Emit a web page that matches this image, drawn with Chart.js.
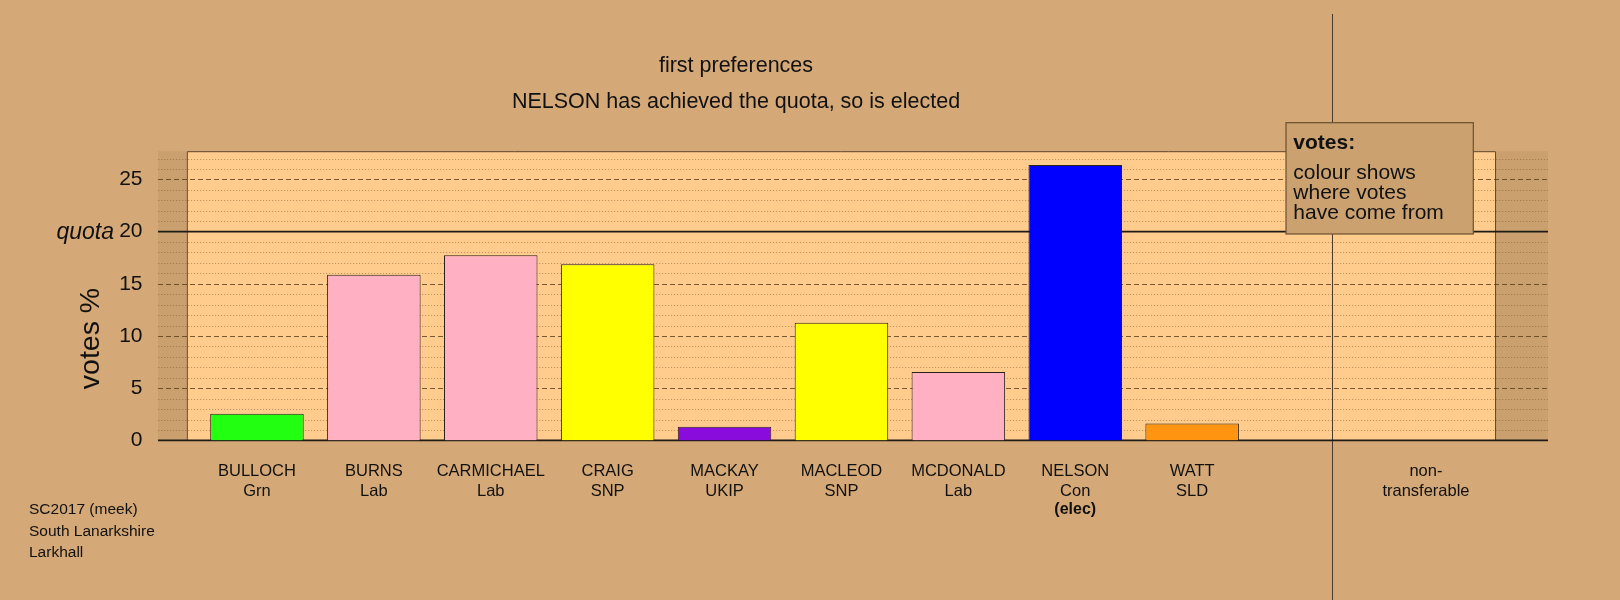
<!DOCTYPE html>
<html>
<head>
<meta charset="utf-8">
<script src="https://cdn.jsdelivr.net/npm/chart.js@4.4.1/dist/chart.umd.min.js"></script>
<style>
  html, body { margin: 0; padding: 0; background: #d4a877; }
  canvas { display: block; }
</style>
</head>
<body>
<canvas id="chart" width="1620" height="600"></canvas>
<script>
// candidates, one slot each; slot 9 is empty, slot 10 is the non-transferable column
const names = ['BULLOCH', 'BURNS', 'CARMICHAEL', 'CRAIG', 'MACKAY', 'MACLEOD', 'MCDONALD', 'NELSON', 'WATT', '', 'non-'];
const parties = ['Grn', 'Lab', 'Lab', 'SNP', 'UKIP', 'SNP', 'Lab', 'Con', 'SLD', '', 'transferable'];
const status = ['', '', '', '', '', '', '', '(elec)', '', '', ''];
const votes = [2.55, 15.86, 17.74, 16.88, 1.31, 11.28, 6.55, 26.37, 1.63, null, null];
const barColours = ['#22ff11', '#ffb0c2', '#ffb0c2', '#ffff00', '#8a0cdc', '#ffff00', '#ffb0c2', '#0000ff', '#ff9410', '#ffffff', '#ffffff'];
const yTicks = [0, 5, 10, 15, 20, 25];
const quota = 20;
const yMax = 27.7;

const titleLines = ['first preferences', 'NELSON has achieved the quota, so is elected'];
const legendTitle = 'votes:';
const legendLines = ['colour shows', 'where votes', 'have come from'];
const footnote = ['SC2017 (meek)', 'South Lanarkshire', 'Larkhall'];

const SANS = '"Liberation Sans", Arial, sans-serif';
const BG = '#d4a877';

function hline(ctx, y, x1, x2, colour, width, dash) {
  ctx.save();
  ctx.strokeStyle = colour;
  ctx.lineWidth = width;
  ctx.setLineDash(dash);
  ctx.beginPath();
  ctx.moveTo(x1, y);
  ctx.lineTo(x2, y);
  ctx.stroke();
  ctx.restore();
}

const backdrop = {
  id: 'backdrop',
  beforeDraw(chart) {
    const { ctx, width, height } = chart;
    ctx.save();
    ctx.fillStyle = BG;
    ctx.fillRect(0, 0, width, height);
    ctx.restore();
  },
  beforeDatasetsDraw(chart) {
    const { ctx, chartArea, scales: { x, y } } = chart;
    const slot = x.getPixelForValue(1) - x.getPixelForValue(0);
    const lineLeft = chartArea.left - 40.5;
    const lineRight = chartArea.right + 63.6;
    const panelLeft = chartArea.left - 0.1 * slot;
    const panelRight = chartArea.right + 0.1 * slot;
    const top = y.getPixelForValue(yMax);
    const zero = y.getPixelForValue(0);

    ctx.save();
    ctx.fillStyle = '#caa06e';
    ctx.fillRect(lineLeft, top, lineRight - lineLeft, zero - top);
    ctx.fillStyle = '#ffcc8e';
    ctx.fillRect(panelLeft, top, panelRight - panelLeft, zero - top);
    ctx.restore();

    for (let v = 1; v < yMax; v++) {
      const py = Math.round(y.getPixelForValue(v)) + 0.5;
      if (v === quota) continue;
      if (v % 5 === 0) hline(ctx, py, lineLeft, lineRight, 'rgba(90,60,25,0.8)', 1, [5, 3]);
      else hline(ctx, py, lineLeft, lineRight, 'rgba(120,80,35,0.45)', 1, [1.2, 1.8]);
    }

    ctx.save();
    ctx.strokeStyle = '#5a4128';
    ctx.lineWidth = 1;
    ctx.beginPath();
    ctx.moveTo(panelLeft + 0.5, zero);
    ctx.lineTo(panelLeft + 0.5, top + 0.5);
    ctx.lineTo(panelRight - 0.5, top + 0.5);
    ctx.lineTo(panelRight - 0.5, zero);
    ctx.stroke();

    // separator before the non-transferable column
    const sep = Math.round(x.getPixelForValue(9) + 0.2 * slot) + 0.5;
    ctx.strokeStyle = '#4a3a2a';
    ctx.beginPath();
    ctx.moveTo(sep, 14);
    ctx.lineTo(sep, chart.height);
    ctx.stroke();
    ctx.restore();

    hline(ctx, y.getPixelForValue(quota), lineLeft, lineRight, '#1e1a16', 1.6, []);
    hline(ctx, zero, lineLeft, lineRight, '#1e1a16', 1.6, []);
  },
  afterDatasetsDraw(chart) {
    const { ctx, scales: { x, y } } = chart;

    // legend box
    ctx.save();
    ctx.fillStyle = '#cba170';
    ctx.strokeStyle = '#6b5030';
    ctx.lineWidth = 1.2;
    ctx.fillRect(1286, 122.7, 187.3, 111.3);
    ctx.strokeRect(1286, 122.7, 187.3, 111.3);
    ctx.fillStyle = '#111';
    ctx.textAlign = 'left';
    ctx.textBaseline = 'alphabetic';
    ctx.font = 'bold 21px ' + SANS;
    ctx.fillText(legendTitle, 1293.3, 149.3);
    ctx.font = '21px ' + SANS;
    legendLines.forEach((t, i) => ctx.fillText(t, 1293.3, 179 + i * 20));

    // titles
    ctx.textAlign = 'center';
    ctx.font = '21.5px ' + SANS;
    ctx.fillText(titleLines[0], 736, 71.7);
    ctx.fillText(titleLines[1], 736, 108.3);

    // y axis title
    ctx.save();
    ctx.translate(99, 338.5);
    ctx.rotate(-Math.PI / 2);
    ctx.font = '28.5px ' + SANS;
    ctx.fillText('votes %', 0, 0);
    ctx.restore();

    // quota marker
    ctx.textAlign = 'right';
    ctx.textBaseline = 'middle';
    ctx.font = 'italic 23px ' + SANS;
    ctx.fillText('quota', 114, y.getPixelForValue(quota) + 1);

    // category labels
    ctx.textAlign = 'center';
    ctx.textBaseline = 'alphabetic';
    names.forEach((n, i) => {
      const cx = x.getPixelForValue(i);
      ctx.font = '16.5px ' + SANS;
      ctx.fillText(n, cx, 476);
      ctx.fillText(parties[i], cx, 496);
      if (status[i]) {
        ctx.font = 'bold 16px ' + SANS;
        ctx.fillText(status[i], cx, 513.5);
      }
    });

    // footnote
    ctx.textAlign = 'left';
    ctx.font = '15.5px ' + SANS;
    footnote.forEach((t, i) => ctx.fillText(t, 29, 514 + i * 21.5));
    ctx.restore();
  }
};

new Chart(document.getElementById('chart').getContext('2d'), {
  type: 'bar',
  data: {
    labels: names,
    datasets: [{
      data: votes,
      backgroundColor: barColours,
      borderColor: '#2b2118',
      borderWidth: 1,
      barPercentage: 0.8,
      categoryPercentage: 1
    }]
  },
  options: {
    responsive: false,
    animation: false,
    layout: { padding: { top: 151.2, right: 135.6, bottom: 0, left: 0 } },
    plugins: {
      legend: { display: false },
      tooltip: { enabled: false },
      title: { display: false }
    },
    scales: {
      x: {
        type: 'category',
        offset: true,
        grid: { display: false, drawTicks: false },
        border: { display: false },
        ticks: { display: false },
        afterFit(scale) { scale.height = 159.6; }
      },
      y: {
        min: 0,
        max: yMax,
        grid: { display: false, drawTicks: false },
        border: { display: false },
        ticks: {
          stepSize: 5,
          includeBounds: false,
          padding: 56,
          color: '#111',
          font: { family: SANS, size: 21 },
          callback: v => (yTicks.includes(v) ? String(v) : '')
        },
        afterFit(scale) { scale.width = 198.5; }
      }
    }
  },
  plugins: [backdrop]
});
</script>
</body>
</html>
